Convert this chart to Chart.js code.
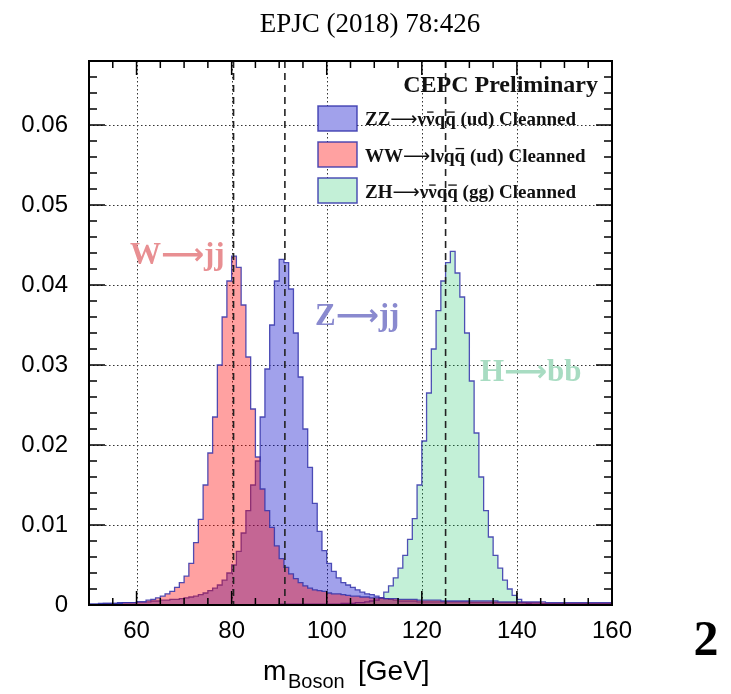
<!DOCTYPE html>
<html>
  <head>
    <meta charset="utf-8">
    <title>CEPC boson mass</title>
    <script src="https://cdn.jsdelivr.net/npm/chart.js@4.4.1/dist/chart.umd.min.js"></script>
    <style>
      body { margin: 0; background: #fff; }
    </style>
  </head>
  <body>
    <canvas id="massChart" width="731" height="694"></canvas>
    <script>
      // bin lower edges (1 GeV bins), last entry closes the final bin
      const binEdges = [50,51,52,53,54,55,56,57,58,59,60,61,62,63,64,65,66,67,68,69,70,71,72,73,74,75,76,77,78,79,
        80,81,82,83,84,85,86,87,88,89,90,91,92,93,94,95,96,97,98,99,100,101,102,103,104,105,106,107,108,109,
        110,111,112,113,114,115,116,117,118,119,120,121,122,123,124,125,126,127,128,129,130,131,132,133,134,
        135,136,137,138,139,140,141,142,143,144,145,146,147,148,149,150,151,152,153,154,155,156,157,158,159,160];

      // ZZ -> vv qq (ud), bins 50..159
      const zzValues = [0.0001,0.0001,0.0002,0.0002,0.0002,0.0002,0.0003,0.0003,0.0003,0.0003,
        0.0004,0.0004,0.0004,0.0005,0.0005,0.0006,0.0006,0.0007,0.0007,0.0008,
        0.0009,0.0010,0.0011,0.0013,0.0015,0.0018,0.0021,0.0025,0.0031,0.0040,
        0.0050,0.0067,0.0090,0.0118,0.0150,0.0180,0.0235,0.0295,0.0350,0.0405,
        0.0432,0.0428,0.0395,0.0340,0.0285,0.0220,0.0172,0.0127,0.0092,0.0068,
        0.0052,0.0042,0.0034,0.0028,0.0025,0.0022,0.0019,0.0016,0.0014,0.0013,
        0.0011,0.0009,0.0008,0.0007,0.0006,0.0005,0.0005,0.0005,0.0005,0.0004,
        0.0004,0.0004,0.0004,0.0004,0.0004,0.0004,0.0004,0.0004,0.0004,0.0004,
        0.0003,0.0003,0.0003,0.0003,0.0003,0.0003,0.0003,0.0003,0.0003,0.0003,
        0.0003,0.0003,0.0003,0.0003,0.0003,0.0002,0.0002,0.0002,0.0002,0.0002,
        0.0002,0.0002,0.0002,0.0002,0.0002,0.0002,0.0002,0.0002,0.0002,0.0002];

      // WW -> lv qq (ud)
      const wwValues = [0.0001,0.0001,0.0001,0.0002,0.0002,0.0002,0.0002,0.0003,0.0003,0.0003,
        0.0004,0.0004,0.0006,0.0007,0.0009,0.0011,0.0014,0.0017,0.0022,0.0028,
        0.0036,0.0052,0.0078,0.0107,0.0150,0.0190,0.0235,0.0300,0.0360,0.0405,
        0.0436,0.0422,0.0375,0.0310,0.0245,0.0185,0.0145,0.0118,0.0097,0.0074,
        0.0058,0.0047,0.0039,0.0033,0.0028,0.0024,0.0021,0.0019,0.0018,0.0017,
        0.0015,0.0014,0.0014,0.0013,0.0012,0.0011,0.0011,0.0010,0.0010,0.0009,
        0.0009,0.0009,0.0008,0.0008,0.0008,0.0007,0.0007,0.0007,0.0007,0.0006,
        0.0006,0.0006,0.0006,0.0006,0.0005,0.0005,0.0005,0.0005,0.0005,0.0005,
        0.0005,0.0005,0.0005,0.0005,0.0005,0.0005,0.0004,0.0004,0.0004,0.0004,
        0.0004,0.0004,0.0004,0.0004,0.0004,0.0004,0.0003,0.0003,0.0003,0.0003,
        0.0003,0.0003,0.0003,0.0003,0.0003,0.0003,0.0003,0.0003,0.0003,0.0003];

      // ZH -> vv qq (gg)
      const zhValues = [0,0,0,0,0,0,0,0,0,0,
        0,0,0,0,0,0,0,0,0,0,
        0,0,0,0,0,0,0,0,0,0,
        0,0,0,0,0,0,0,0,0,0,
        0.0001,0.0001,0.0001,0.0001,0.0001,0.0001,0.0001,0.0001,0.0001,0.0001,
        0.0001,0.0001,0.0001,0.0002,0.0002,0.0002,0.0003,0.0003,0.0004,0.0005,
        0.0006,0.0009,0.0016,0.0024,0.0034,0.0046,0.0062,0.0082,0.0108,0.0150,
        0.0205,0.0265,0.0320,0.0368,0.0405,0.0428,0.0442,0.0415,0.0385,0.0340,
        0.0280,0.0215,0.0160,0.0118,0.0085,0.0062,0.0046,0.0031,0.0020,0.0012,
        0.0007,0.0003,0.0002,0.0001,0.0001,0.0001,0.0001,0.0001,0.0001,0.0001,
        0.0001,0.0001,0.0001,0.0001,0.0001,0.0001,0.0001,0.0001,0.0001,0.0001];

      const xTicks = [60, 80, 100, 120, 140, 160];
      const yTicks = [0, 0.01, 0.02, 0.03, 0.04, 0.05, 0.06];
      const yTickLabels = ['0', '0.01', '0.02', '0.03', '0.04', '0.05', '0.06'];
      const massLines = [80.4, 91.2, 125]; // W, Z, H masses
      // legend label pieces: [text, overline?]; '>' stands for the arrow
      const legendLabels = [
        [['ZZ'], ['>'], ['\u03bd'], ['\u03bd', true], ['q'], ['q', true], [' (ud) Cleanned']],
        [['WW'], ['>'], ['l\u03bd'], ['q'], ['q', true], [' (ud) Cleanned']],
        [['ZH'], ['>'], ['\u03bd'], ['\u03bd', true], ['q'], ['q', true], [' (gg) Cleanned']]
      ];

      const lineBlue = 'rgba(50,50,170,0.85)';
      const zzFill = 'rgba(0,0,200,0.37)';
      const wwFill = 'rgba(255,0,0,0.37)';
      const zhFill = 'rgba(0,190,85,0.235)';

      function toPoints(values) {
        return binEdges.map((e, i) => ({ x: e, y: values[Math.min(i, values.length - 1)] }));
      }

      function histDataset(label, values, fill, order) {
        return {
          label: label,
          data: toPoints(values),
          stepped: true,
          fill: 'origin',
          backgroundColor: fill,
          borderColor: lineBlue,
          borderWidth: 1.3,
          pointRadius: 0,
          order: order
        };
      }

      // draws text pieces one after another, each with its own font
      function drawParts(ctx, parts, x, y) {
        parts.forEach(p => {
          ctx.font = p[1];
          ctx.fillText(p[0], x, y);
          x += ctx.measureText(p[0]).width + (p[2] || 0);
        });
      }

      // grid, frame, ticks, mass lines, legend and free texts
      const decorations = {
        id: 'decorations',
        beforeDatasetsDraw(chart) {
          const { ctx, chartArea: a, scales: { x, y } } = chart;
          ctx.save();
          ctx.strokeStyle = '#333';
          ctx.lineWidth = 1;
          ctx.setLineDash([1.5, 2.5]);
          xTicks.forEach(v => {
            const px = Math.round(x.getPixelForValue(v)) + 0.5;
            ctx.beginPath(); ctx.moveTo(px, a.top); ctx.lineTo(px, a.bottom); ctx.stroke();
          });
          yTicks.forEach(v => {
            const py = Math.round(y.getPixelForValue(v)) + 0.5;
            ctx.beginPath(); ctx.moveTo(a.left, py); ctx.lineTo(a.right, py); ctx.stroke();
          });
          ctx.restore();
        },
        afterDraw(chart) {
          const { ctx, chartArea: a, scales: { x, y } } = chart;
          ctx.save();

          // dashed boson mass lines
          ctx.strokeStyle = '#222';
          ctx.lineWidth = 1.6;
          ctx.setLineDash([7, 5]);
          massLines.forEach(m => {
            const px = x.getPixelForValue(m);
            ctx.beginPath(); ctx.moveTo(px, a.top); ctx.lineTo(px, a.bottom); ctx.stroke();
          });
          ctx.setLineDash([]);

          // frame
          ctx.strokeStyle = '#000';
          ctx.lineWidth = 2;
          ctx.strokeRect(a.left, a.top, a.right - a.left, a.bottom - a.top);

          // ticks on all four sides
          ctx.lineWidth = 1.5;
          for (let v = 50; v <= 160; v += 5) {
            const px = x.getPixelForValue(v);
            const len = (v % 20 === 0) ? 14 : 7;
            ctx.beginPath();
            ctx.moveTo(px, a.bottom); ctx.lineTo(px, a.bottom - len);
            ctx.moveTo(px, a.top); ctx.lineTo(px, a.top + len);
            ctx.stroke();
          }
          for (let i = 0; i <= 34; i++) {
            const py = y.getPixelForValue(i * 0.002);
            const len = (i % 5 === 0) ? 16 : 8;
            ctx.beginPath();
            ctx.moveTo(a.left, py); ctx.lineTo(a.left + len, py);
            ctx.moveTo(a.right, py); ctx.lineTo(a.right - len, py);
            ctx.stroke();
          }

          // legend
          const fills = [zzFill, wwFill, zhFill];
          const boxTops = [106, 142, 178];
          const baselines = [125, 161.5, 198];
          const legSize = 19;
          const legFont = 'bold ' + legSize + 'px "Liberation Serif"';
          const arrowFont = legSize + 'px "DejaVu Sans"';
          ctx.textAlign = 'left';
          ctx.textBaseline = 'alphabetic';
          legendLabels.forEach((lab, i) => {
            ctx.fillStyle = '#fff';
            ctx.fillRect(318, boxTops[i], 39, 25);
            ctx.fillStyle = fills[i];
            ctx.fillRect(318, boxTops[i], 39, 25);
            ctx.strokeStyle = lineBlue;
            ctx.lineWidth = 1.5;
            ctx.strokeRect(318, boxTops[i], 39, 25);
            ctx.fillStyle = '#111';
            ctx.strokeStyle = '#111';
            let px = 365;
            const by = baselines[i];
            lab.forEach(piece => {
              const isArrow = piece[0] === '>';
              const txt = isArrow ? '\u27f6' : piece[0];
              ctx.font = isArrow ? arrowFont : legFont;
              ctx.fillText(txt, px, by);
              const w = ctx.measureText(txt).width;
              if (piece[1]) {
                ctx.lineWidth = 1.3;
                ctx.beginPath();
                ctx.moveTo(px + 1, by - legSize * 0.68);
                ctx.lineTo(px + w - 1, by - legSize * 0.68);
                ctx.stroke();
              }
              px += w;
            });
          });

          ctx.font = 'bold 24px "Liberation Serif"';
          ctx.textAlign = 'right';
          ctx.fillStyle = '#111';
          ctx.fillText('CEPC Preliminary', 598, 92);

          // process annotations
          ctx.textAlign = 'left';
          const annFont = 'bold 31px "Liberation Serif"';
          const annArrow = 'bold 30px "DejaVu Sans"';
          ctx.fillStyle = '#e88f92';
          drawParts(ctx, [['W', annFont, 0], ['\u27f6', annArrow, 0], ['jj', annFont]], 130, 264);
          ctx.fillStyle = '#8a8acf';
          drawParts(ctx, [['Z', annFont, 0], ['\u27f6', annArrow, 0], ['jj', annFont]], 315, 325);
          ctx.fillStyle = '#a8dcc2';
          drawParts(ctx, [['H', annFont, 0], ['\u27f6', annArrow, 0], ['bb', annFont]], 480, 381);

          // title, axis title and panel number
          ctx.fillStyle = '#000';
          ctx.textAlign = 'center';
          ctx.font = '27px "Liberation Serif"';
          ctx.fillText('EPJC (2018) 78:426', 370, 32);

          ctx.textAlign = 'left';
          ctx.font = '28px "Liberation Sans"';
          ctx.fillText('m', 263, 680);
          ctx.font = '20px "Liberation Sans"';
          ctx.fillText('Boson', 288, 688);
          ctx.font = '28px "Liberation Sans"';
          ctx.fillText('[GeV]', 358, 680);

          ctx.textAlign = 'center';
          ctx.font = 'bold 50px "Liberation Serif"';
          ctx.fillText('2', 706, 655);
          ctx.restore();
        }
      };

      new Chart(document.getElementById('massChart'), {
        type: 'line',
        data: {
          datasets: [
            histDataset('WW', wwValues, wwFill, 1),
            histDataset('ZZ', zzValues, zzFill, 2),
            histDataset('ZH', zhValues, zhFill, 3)
          ]
        },
        options: {
          responsive: false,
          animation: false,
          devicePixelRatio: 1,
          layout: { padding: { top: 61, right: 119, left: 0, bottom: 0 } },
          plugins: { legend: { display: false }, tooltip: { enabled: false } },
          scales: {
            x: {
              type: 'linear',
              min: 50,
              max: 160,
              afterBuildTicks: s => { s.ticks = xTicks.map(v => ({ value: v })); },
              afterFit: s => { s.height = 89; },
              grid: { display: false, drawTicks: false },
              border: { display: false },
              ticks: {
                autoSkip: false,
                maxRotation: 0,
                padding: 12,
                color: '#000',
                font: { family: 'Liberation Sans', size: 24 }
              }
            },
            y: {
              min: 0,
              max: 0.068,
              afterBuildTicks: s => { s.ticks = yTicks.map(v => ({ value: v })); },
              afterFit: s => { s.width = 89; },
              grid: { display: false, drawTicks: false },
              border: { display: false },
              ticks: {
                padding: 21,
                color: '#000',
                font: { family: 'Liberation Sans', size: 24 },
                callback: (v, i) => yTickLabels[i]
              }
            }
          }
        },
        plugins: [decorations]
      });
    </script>
  </body>
</html>
